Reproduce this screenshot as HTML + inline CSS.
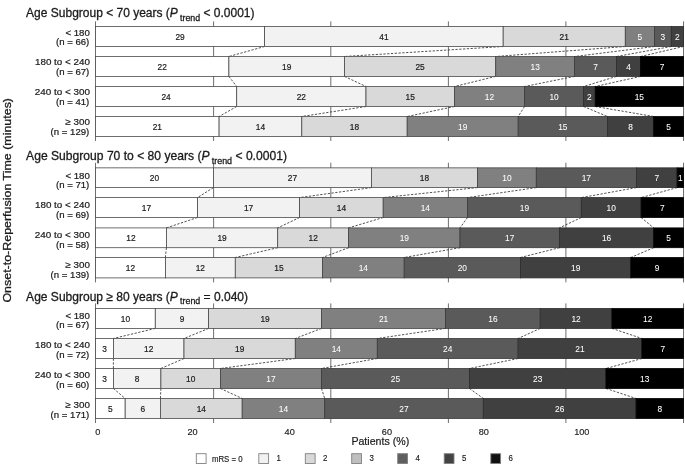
<!DOCTYPE html>
<html><head><meta charset="utf-8"><title>chart</title>
<style>html,body{margin:0;padding:0;background:#fff}svg{display:block;will-change:transform}</style></head>
<body>
<svg width="685" height="466" viewBox="0 0 685 466" font-family="'Liberation Sans', sans-serif">
<rect width="685" height="466" fill="#fff"/>
<line x1="95.50" y1="21.40" x2="95.50" y2="141.00" stroke="#4a4a4a" stroke-width="0.8"/>
<line x1="213.60" y1="21.40" x2="213.60" y2="141.00" stroke="#4a4a4a" stroke-width="0.8"/>
<line x1="330.80" y1="21.40" x2="330.80" y2="141.00" stroke="#4a4a4a" stroke-width="0.8"/>
<line x1="448.40" y1="21.40" x2="448.40" y2="141.00" stroke="#4a4a4a" stroke-width="0.8"/>
<line x1="565.90" y1="21.40" x2="565.90" y2="141.00" stroke="#4a4a4a" stroke-width="0.8"/>
<line x1="683.50" y1="21.40" x2="683.50" y2="141.00" stroke="#4a4a4a" stroke-width="0.8"/>
<line x1="264.60" y1="46.50" x2="228.90" y2="56.50" stroke="#333" stroke-width="0.85" stroke-dasharray="2.3 1.5"/>
<line x1="503.20" y1="46.50" x2="344.50" y2="56.50" stroke="#333" stroke-width="0.85" stroke-dasharray="2.3 1.5"/>
<line x1="625.30" y1="46.50" x2="495.70" y2="56.50" stroke="#333" stroke-width="0.85" stroke-dasharray="2.3 1.5"/>
<line x1="654.50" y1="46.50" x2="574.60" y2="56.50" stroke="#333" stroke-width="0.85" stroke-dasharray="2.3 1.5"/>
<line x1="671.30" y1="46.50" x2="616.50" y2="56.50" stroke="#333" stroke-width="0.85" stroke-dasharray="2.3 1.5"/>
<line x1="683.50" y1="46.50" x2="640.60" y2="56.50" stroke="#333" stroke-width="0.85" stroke-dasharray="2.3 1.5"/>
<line x1="228.90" y1="76.40" x2="236.70" y2="86.50" stroke="#333" stroke-width="0.85" stroke-dasharray="2.3 1.5"/>
<line x1="344.50" y1="76.40" x2="366.00" y2="86.50" stroke="#333" stroke-width="0.85" stroke-dasharray="2.3 1.5"/>
<line x1="495.70" y1="76.40" x2="454.50" y2="86.50" stroke="#333" stroke-width="0.85" stroke-dasharray="2.3 1.5"/>
<line x1="574.60" y1="76.40" x2="524.50" y2="86.50" stroke="#333" stroke-width="0.85" stroke-dasharray="2.3 1.5"/>
<line x1="616.50" y1="76.40" x2="583.60" y2="86.50" stroke="#333" stroke-width="0.85" stroke-dasharray="2.3 1.5"/>
<line x1="640.60" y1="76.40" x2="595.20" y2="86.50" stroke="#333" stroke-width="0.85" stroke-dasharray="2.3 1.5"/>
<line x1="236.70" y1="106.50" x2="219.10" y2="116.50" stroke="#333" stroke-width="0.85" stroke-dasharray="2.3 1.5"/>
<line x1="366.00" y1="106.50" x2="301.80" y2="116.50" stroke="#333" stroke-width="0.85" stroke-dasharray="2.3 1.5"/>
<line x1="454.50" y1="106.50" x2="407.20" y2="116.50" stroke="#333" stroke-width="0.85" stroke-dasharray="2.3 1.5"/>
<line x1="524.50" y1="106.50" x2="518.20" y2="116.50" stroke="#333" stroke-width="0.85" stroke-dasharray="2.3 1.5"/>
<line x1="583.60" y1="106.50" x2="607.50" y2="116.50" stroke="#333" stroke-width="0.85" stroke-dasharray="2.3 1.5"/>
<line x1="595.20" y1="106.50" x2="653.70" y2="116.50" stroke="#333" stroke-width="0.85" stroke-dasharray="2.3 1.5"/>
<rect x="95.50" y="26.50" width="169.10" height="20.00" fill="#ffffff" stroke="#4a4a4a" stroke-width="0.8"/>
<rect x="264.60" y="26.50" width="238.60" height="20.00" fill="#f2f2f2" stroke="#4a4a4a" stroke-width="0.8"/>
<rect x="503.20" y="26.50" width="122.10" height="20.00" fill="#d9d9d9" stroke="#4a4a4a" stroke-width="0.8"/>
<rect x="625.30" y="26.50" width="29.20" height="20.00" fill="#808080" stroke="#444" stroke-width="0.8"/>
<rect x="654.50" y="26.50" width="16.80" height="20.00" fill="#5a5a5a" stroke="#3a3a3a" stroke-width="0.8"/>
<rect x="671.30" y="26.50" width="12.20" height="20.00" fill="#404040" stroke="#2c2c2c" stroke-width="0.8"/>
<text x="180.05" y="40.10" font-size="9" text-anchor="middle" fill="#1a1a1a" stroke="#1a1a1a" stroke-width="0.2" textLength="9.30" lengthAdjust="spacingAndGlyphs">29</text>
<text x="383.90" y="40.10" font-size="9" text-anchor="middle" fill="#1a1a1a" stroke="#1a1a1a" stroke-width="0.2" textLength="9.30" lengthAdjust="spacingAndGlyphs">41</text>
<text x="564.25" y="40.10" font-size="9" text-anchor="middle" fill="#1a1a1a" stroke="#1a1a1a" stroke-width="0.2" textLength="9.30" lengthAdjust="spacingAndGlyphs">21</text>
<text x="639.90" y="40.10" font-size="9" text-anchor="middle" fill="#fff" stroke="#fff" stroke-width="0.05" textLength="4.65" lengthAdjust="spacingAndGlyphs">5</text>
<text x="662.90" y="40.10" font-size="9" text-anchor="middle" fill="#fff" stroke="#fff" stroke-width="0.05" textLength="4.65" lengthAdjust="spacingAndGlyphs">3</text>
<text x="677.40" y="40.10" font-size="9" text-anchor="middle" fill="#fff" stroke="#fff" stroke-width="0.05" textLength="4.65" lengthAdjust="spacingAndGlyphs">2</text>
<text x="65.40" y="35.50" font-size="9" fill="#1a1a1a" stroke="#1a1a1a" stroke-width="0.2" textLength="24.5" lengthAdjust="spacingAndGlyphs">&lt; 180</text>
<text x="56.00" y="45.30" font-size="9" fill="#1a1a1a" stroke="#1a1a1a" stroke-width="0.2" textLength="33.3" lengthAdjust="spacingAndGlyphs">(n = 66)</text>
<rect x="95.50" y="56.50" width="133.40" height="19.90" fill="#ffffff" stroke="#4a4a4a" stroke-width="0.8"/>
<rect x="228.90" y="56.50" width="115.60" height="19.90" fill="#f2f2f2" stroke="#4a4a4a" stroke-width="0.8"/>
<rect x="344.50" y="56.50" width="151.20" height="19.90" fill="#d9d9d9" stroke="#4a4a4a" stroke-width="0.8"/>
<rect x="495.70" y="56.50" width="78.90" height="19.90" fill="#808080" stroke="#444" stroke-width="0.8"/>
<rect x="574.60" y="56.50" width="41.90" height="19.90" fill="#5a5a5a" stroke="#3a3a3a" stroke-width="0.8"/>
<rect x="616.50" y="56.50" width="24.10" height="19.90" fill="#404040" stroke="#2c2c2c" stroke-width="0.8"/>
<rect x="640.60" y="56.50" width="42.90" height="19.90" fill="#000000" stroke="#000" stroke-width="0.8"/>
<text x="162.20" y="70.05" font-size="9" text-anchor="middle" fill="#1a1a1a" stroke="#1a1a1a" stroke-width="0.2" textLength="9.30" lengthAdjust="spacingAndGlyphs">22</text>
<text x="286.70" y="70.05" font-size="9" text-anchor="middle" fill="#1a1a1a" stroke="#1a1a1a" stroke-width="0.2" textLength="9.30" lengthAdjust="spacingAndGlyphs">19</text>
<text x="420.10" y="70.05" font-size="9" text-anchor="middle" fill="#1a1a1a" stroke="#1a1a1a" stroke-width="0.2" textLength="9.30" lengthAdjust="spacingAndGlyphs">25</text>
<text x="535.15" y="70.05" font-size="9" text-anchor="middle" fill="#fff" stroke="#fff" stroke-width="0.05" textLength="9.30" lengthAdjust="spacingAndGlyphs">13</text>
<text x="595.55" y="70.05" font-size="9" text-anchor="middle" fill="#fff" stroke="#fff" stroke-width="0.05" textLength="4.65" lengthAdjust="spacingAndGlyphs">7</text>
<text x="628.55" y="70.05" font-size="9" text-anchor="middle" fill="#fff" stroke="#fff" stroke-width="0.05" textLength="4.65" lengthAdjust="spacingAndGlyphs">4</text>
<text x="662.05" y="70.05" font-size="9" text-anchor="middle" fill="#fff" stroke="#fff" stroke-width="0.05" textLength="4.65" lengthAdjust="spacingAndGlyphs">7</text>
<text x="35.00" y="65.40" font-size="9" fill="#1a1a1a" stroke="#1a1a1a" stroke-width="0.2" textLength="54.9" lengthAdjust="spacingAndGlyphs">180 to &lt; 240</text>
<text x="56.00" y="75.20" font-size="9" fill="#1a1a1a" stroke="#1a1a1a" stroke-width="0.2" textLength="33.3" lengthAdjust="spacingAndGlyphs">(n = 67)</text>
<rect x="95.50" y="86.50" width="141.20" height="20.00" fill="#ffffff" stroke="#4a4a4a" stroke-width="0.8"/>
<rect x="236.70" y="86.50" width="129.30" height="20.00" fill="#f2f2f2" stroke="#4a4a4a" stroke-width="0.8"/>
<rect x="366.00" y="86.50" width="88.50" height="20.00" fill="#d9d9d9" stroke="#4a4a4a" stroke-width="0.8"/>
<rect x="454.50" y="86.50" width="70.00" height="20.00" fill="#808080" stroke="#444" stroke-width="0.8"/>
<rect x="524.50" y="86.50" width="59.10" height="20.00" fill="#5a5a5a" stroke="#3a3a3a" stroke-width="0.8"/>
<rect x="583.60" y="86.50" width="11.60" height="20.00" fill="#404040" stroke="#2c2c2c" stroke-width="0.8"/>
<rect x="595.20" y="86.50" width="88.30" height="20.00" fill="#000000" stroke="#000" stroke-width="0.8"/>
<text x="166.10" y="100.10" font-size="9" text-anchor="middle" fill="#1a1a1a" stroke="#1a1a1a" stroke-width="0.2" textLength="9.30" lengthAdjust="spacingAndGlyphs">24</text>
<text x="301.35" y="100.10" font-size="9" text-anchor="middle" fill="#1a1a1a" stroke="#1a1a1a" stroke-width="0.2" textLength="9.30" lengthAdjust="spacingAndGlyphs">22</text>
<text x="410.25" y="100.10" font-size="9" text-anchor="middle" fill="#1a1a1a" stroke="#1a1a1a" stroke-width="0.2" textLength="9.30" lengthAdjust="spacingAndGlyphs">15</text>
<text x="489.50" y="100.10" font-size="9" text-anchor="middle" fill="#fff" stroke="#fff" stroke-width="0.05" textLength="9.30" lengthAdjust="spacingAndGlyphs">12</text>
<text x="554.05" y="100.10" font-size="9" text-anchor="middle" fill="#fff" stroke="#fff" stroke-width="0.05" textLength="9.30" lengthAdjust="spacingAndGlyphs">10</text>
<text x="589.40" y="100.10" font-size="9" text-anchor="middle" fill="#fff" stroke="#fff" stroke-width="0.05" textLength="4.65" lengthAdjust="spacingAndGlyphs">2</text>
<text x="639.35" y="100.10" font-size="9" text-anchor="middle" fill="#fff" stroke="#fff" stroke-width="0.05" textLength="9.30" lengthAdjust="spacingAndGlyphs">15</text>
<text x="34.80" y="95.30" font-size="9" fill="#1a1a1a" stroke="#1a1a1a" stroke-width="0.2" textLength="55.1" lengthAdjust="spacingAndGlyphs">240 to &lt; 300</text>
<text x="56.00" y="105.10" font-size="9" fill="#1a1a1a" stroke="#1a1a1a" stroke-width="0.2" textLength="33.3" lengthAdjust="spacingAndGlyphs">(n = 41)</text>
<rect x="95.50" y="116.50" width="123.60" height="20.00" fill="#ffffff" stroke="#4a4a4a" stroke-width="0.8"/>
<rect x="219.10" y="116.50" width="82.70" height="20.00" fill="#f2f2f2" stroke="#4a4a4a" stroke-width="0.8"/>
<rect x="301.80" y="116.50" width="105.40" height="20.00" fill="#d9d9d9" stroke="#4a4a4a" stroke-width="0.8"/>
<rect x="407.20" y="116.50" width="111.00" height="20.00" fill="#808080" stroke="#444" stroke-width="0.8"/>
<rect x="518.20" y="116.50" width="89.30" height="20.00" fill="#5a5a5a" stroke="#3a3a3a" stroke-width="0.8"/>
<rect x="607.50" y="116.50" width="46.20" height="20.00" fill="#404040" stroke="#2c2c2c" stroke-width="0.8"/>
<rect x="653.70" y="116.50" width="29.80" height="20.00" fill="#000000" stroke="#000" stroke-width="0.8"/>
<text x="157.30" y="130.10" font-size="9" text-anchor="middle" fill="#1a1a1a" stroke="#1a1a1a" stroke-width="0.2" textLength="9.30" lengthAdjust="spacingAndGlyphs">21</text>
<text x="260.45" y="130.10" font-size="9" text-anchor="middle" fill="#1a1a1a" stroke="#1a1a1a" stroke-width="0.2" textLength="9.30" lengthAdjust="spacingAndGlyphs">14</text>
<text x="354.50" y="130.10" font-size="9" text-anchor="middle" fill="#1a1a1a" stroke="#1a1a1a" stroke-width="0.2" textLength="9.30" lengthAdjust="spacingAndGlyphs">18</text>
<text x="462.70" y="130.10" font-size="9" text-anchor="middle" fill="#fff" stroke="#fff" stroke-width="0.05" textLength="9.30" lengthAdjust="spacingAndGlyphs">19</text>
<text x="562.85" y="130.10" font-size="9" text-anchor="middle" fill="#fff" stroke="#fff" stroke-width="0.05" textLength="9.30" lengthAdjust="spacingAndGlyphs">15</text>
<text x="630.60" y="130.10" font-size="9" text-anchor="middle" fill="#fff" stroke="#fff" stroke-width="0.05" textLength="4.65" lengthAdjust="spacingAndGlyphs">8</text>
<text x="668.60" y="130.10" font-size="9" text-anchor="middle" fill="#fff" stroke="#fff" stroke-width="0.05" textLength="4.65" lengthAdjust="spacingAndGlyphs">5</text>
<text x="65.40" y="125.20" font-size="9" fill="#1a1a1a" stroke="#1a1a1a" stroke-width="0.2" textLength="24.5" lengthAdjust="spacingAndGlyphs">≥ 300</text>
<text x="50.60" y="135.00" font-size="9" fill="#1a1a1a" stroke="#1a1a1a" stroke-width="0.2" textLength="38.7" lengthAdjust="spacingAndGlyphs">(n = 129)</text>
<text transform="translate(26.1,17.20) scale(0.96,1)" font-size="12.5" fill="#1a1a1a" stroke="#1a1a1a" stroke-width="0.3">Age Subgroup &lt; 70 years (<tspan font-style="italic">P</tspan><tspan font-size="9.2" dy="3.4" dx="2.3">trend</tspan><tspan dy="-3.4"> &lt; 0.0001)</tspan></text>
<line x1="95.50" y1="162.75" x2="95.50" y2="282.40" stroke="#4a4a4a" stroke-width="0.8"/>
<line x1="213.60" y1="162.75" x2="213.60" y2="282.40" stroke="#4a4a4a" stroke-width="0.8"/>
<line x1="330.80" y1="162.75" x2="330.80" y2="282.40" stroke="#4a4a4a" stroke-width="0.8"/>
<line x1="448.40" y1="162.75" x2="448.40" y2="282.40" stroke="#4a4a4a" stroke-width="0.8"/>
<line x1="565.90" y1="162.75" x2="565.90" y2="282.40" stroke="#4a4a4a" stroke-width="0.8"/>
<line x1="683.50" y1="162.75" x2="683.50" y2="282.40" stroke="#4a4a4a" stroke-width="0.8"/>
<line x1="213.40" y1="187.60" x2="197.50" y2="197.60" stroke="#333" stroke-width="0.85" stroke-dasharray="2.3 1.5"/>
<line x1="371.40" y1="187.60" x2="299.60" y2="197.60" stroke="#333" stroke-width="0.85" stroke-dasharray="2.3 1.5"/>
<line x1="477.50" y1="187.60" x2="383.20" y2="197.60" stroke="#333" stroke-width="0.85" stroke-dasharray="2.3 1.5"/>
<line x1="536.30" y1="187.60" x2="467.50" y2="197.60" stroke="#333" stroke-width="0.85" stroke-dasharray="2.3 1.5"/>
<line x1="636.40" y1="187.60" x2="581.30" y2="197.60" stroke="#333" stroke-width="0.85" stroke-dasharray="2.3 1.5"/>
<line x1="677.10" y1="187.60" x2="641.10" y2="197.60" stroke="#333" stroke-width="0.85" stroke-dasharray="2.3 1.5"/>
<line x1="197.50" y1="217.50" x2="166.40" y2="227.90" stroke="#333" stroke-width="0.85" stroke-dasharray="2.3 1.5"/>
<line x1="299.60" y1="217.50" x2="277.70" y2="227.90" stroke="#333" stroke-width="0.85" stroke-dasharray="2.3 1.5"/>
<line x1="383.20" y1="217.50" x2="348.60" y2="227.90" stroke="#333" stroke-width="0.85" stroke-dasharray="2.3 1.5"/>
<line x1="467.50" y1="217.50" x2="460.00" y2="227.90" stroke="#333" stroke-width="0.85" stroke-dasharray="2.3 1.5"/>
<line x1="581.30" y1="217.50" x2="559.50" y2="227.90" stroke="#333" stroke-width="0.85" stroke-dasharray="2.3 1.5"/>
<line x1="641.10" y1="217.50" x2="653.70" y2="227.90" stroke="#333" stroke-width="0.85" stroke-dasharray="2.3 1.5"/>
<line x1="166.40" y1="247.70" x2="165.40" y2="257.50" stroke="#333" stroke-width="0.85" stroke-dasharray="2.3 1.5"/>
<line x1="277.70" y1="247.70" x2="235.30" y2="257.50" stroke="#333" stroke-width="0.85" stroke-dasharray="2.3 1.5"/>
<line x1="348.60" y1="247.70" x2="322.50" y2="257.50" stroke="#333" stroke-width="0.85" stroke-dasharray="2.3 1.5"/>
<line x1="460.00" y1="247.70" x2="404.20" y2="257.50" stroke="#333" stroke-width="0.85" stroke-dasharray="2.3 1.5"/>
<line x1="559.50" y1="247.70" x2="520.50" y2="257.50" stroke="#333" stroke-width="0.85" stroke-dasharray="2.3 1.5"/>
<line x1="653.70" y1="247.70" x2="630.80" y2="257.50" stroke="#333" stroke-width="0.85" stroke-dasharray="2.3 1.5"/>
<rect x="95.50" y="167.85" width="117.90" height="19.75" fill="#ffffff" stroke="#4a4a4a" stroke-width="0.8"/>
<rect x="213.40" y="167.85" width="158.00" height="19.75" fill="#f2f2f2" stroke="#4a4a4a" stroke-width="0.8"/>
<rect x="371.40" y="167.85" width="106.10" height="19.75" fill="#d9d9d9" stroke="#4a4a4a" stroke-width="0.8"/>
<rect x="477.50" y="167.85" width="58.80" height="19.75" fill="#808080" stroke="#444" stroke-width="0.8"/>
<rect x="536.30" y="167.85" width="100.10" height="19.75" fill="#5a5a5a" stroke="#3a3a3a" stroke-width="0.8"/>
<rect x="636.40" y="167.85" width="40.70" height="19.75" fill="#404040" stroke="#2c2c2c" stroke-width="0.8"/>
<rect x="677.10" y="167.85" width="6.40" height="19.75" fill="#000000" stroke="#000" stroke-width="0.8"/>
<text x="154.45" y="181.32" font-size="9" text-anchor="middle" fill="#1a1a1a" stroke="#1a1a1a" stroke-width="0.2" textLength="9.30" lengthAdjust="spacingAndGlyphs">20</text>
<text x="292.40" y="181.32" font-size="9" text-anchor="middle" fill="#1a1a1a" stroke="#1a1a1a" stroke-width="0.2" textLength="9.30" lengthAdjust="spacingAndGlyphs">27</text>
<text x="424.45" y="181.32" font-size="9" text-anchor="middle" fill="#1a1a1a" stroke="#1a1a1a" stroke-width="0.2" textLength="9.30" lengthAdjust="spacingAndGlyphs">18</text>
<text x="506.90" y="181.32" font-size="9" text-anchor="middle" fill="#fff" stroke="#fff" stroke-width="0.05" textLength="9.30" lengthAdjust="spacingAndGlyphs">10</text>
<text x="586.35" y="181.32" font-size="9" text-anchor="middle" fill="#fff" stroke="#fff" stroke-width="0.05" textLength="9.30" lengthAdjust="spacingAndGlyphs">17</text>
<text x="656.75" y="181.32" font-size="9" text-anchor="middle" fill="#fff" stroke="#fff" stroke-width="0.05" textLength="4.65" lengthAdjust="spacingAndGlyphs">7</text>
<text x="680.30" y="181.32" font-size="9" text-anchor="middle" fill="#fff" stroke="#fff" stroke-width="0.05" textLength="4.65" lengthAdjust="spacingAndGlyphs">1</text>
<text x="65.40" y="178.50" font-size="9" fill="#1a1a1a" stroke="#1a1a1a" stroke-width="0.2" textLength="24.5" lengthAdjust="spacingAndGlyphs">&lt; 180</text>
<text x="56.00" y="188.30" font-size="9" fill="#1a1a1a" stroke="#1a1a1a" stroke-width="0.2" textLength="33.3" lengthAdjust="spacingAndGlyphs">(n = 71)</text>
<rect x="95.50" y="197.60" width="102.00" height="19.90" fill="#ffffff" stroke="#4a4a4a" stroke-width="0.8"/>
<rect x="197.50" y="197.60" width="102.10" height="19.90" fill="#f2f2f2" stroke="#4a4a4a" stroke-width="0.8"/>
<rect x="299.60" y="197.60" width="83.60" height="19.90" fill="#d9d9d9" stroke="#4a4a4a" stroke-width="0.8"/>
<rect x="383.20" y="197.60" width="84.30" height="19.90" fill="#808080" stroke="#444" stroke-width="0.8"/>
<rect x="467.50" y="197.60" width="113.80" height="19.90" fill="#5a5a5a" stroke="#3a3a3a" stroke-width="0.8"/>
<rect x="581.30" y="197.60" width="59.80" height="19.90" fill="#404040" stroke="#2c2c2c" stroke-width="0.8"/>
<rect x="641.10" y="197.60" width="42.40" height="19.90" fill="#000000" stroke="#000" stroke-width="0.8"/>
<text x="146.50" y="211.15" font-size="9" text-anchor="middle" fill="#1a1a1a" stroke="#1a1a1a" stroke-width="0.2" textLength="9.30" lengthAdjust="spacingAndGlyphs">17</text>
<text x="248.55" y="211.15" font-size="9" text-anchor="middle" fill="#1a1a1a" stroke="#1a1a1a" stroke-width="0.2" textLength="9.30" lengthAdjust="spacingAndGlyphs">17</text>
<text x="341.40" y="211.15" font-size="9" text-anchor="middle" fill="#1a1a1a" stroke="#1a1a1a" stroke-width="0.2" textLength="9.30" lengthAdjust="spacingAndGlyphs">14</text>
<text x="425.35" y="211.15" font-size="9" text-anchor="middle" fill="#fff" stroke="#fff" stroke-width="0.05" textLength="9.30" lengthAdjust="spacingAndGlyphs">14</text>
<text x="524.40" y="211.15" font-size="9" text-anchor="middle" fill="#fff" stroke="#fff" stroke-width="0.05" textLength="9.30" lengthAdjust="spacingAndGlyphs">19</text>
<text x="611.20" y="211.15" font-size="9" text-anchor="middle" fill="#fff" stroke="#fff" stroke-width="0.05" textLength="9.30" lengthAdjust="spacingAndGlyphs">10</text>
<text x="662.30" y="211.15" font-size="9" text-anchor="middle" fill="#fff" stroke="#fff" stroke-width="0.05" textLength="4.65" lengthAdjust="spacingAndGlyphs">7</text>
<text x="35.00" y="208.40" font-size="9" fill="#1a1a1a" stroke="#1a1a1a" stroke-width="0.2" textLength="54.9" lengthAdjust="spacingAndGlyphs">180 to &lt; 240</text>
<text x="56.00" y="218.20" font-size="9" fill="#1a1a1a" stroke="#1a1a1a" stroke-width="0.2" textLength="33.3" lengthAdjust="spacingAndGlyphs">(n = 69)</text>
<rect x="95.50" y="227.90" width="70.90" height="19.80" fill="#ffffff" stroke="#4a4a4a" stroke-width="0.8"/>
<rect x="166.40" y="227.90" width="111.30" height="19.80" fill="#f2f2f2" stroke="#4a4a4a" stroke-width="0.8"/>
<rect x="277.70" y="227.90" width="70.90" height="19.80" fill="#d9d9d9" stroke="#4a4a4a" stroke-width="0.8"/>
<rect x="348.60" y="227.90" width="111.40" height="19.80" fill="#808080" stroke="#444" stroke-width="0.8"/>
<rect x="460.00" y="227.90" width="99.50" height="19.80" fill="#5a5a5a" stroke="#3a3a3a" stroke-width="0.8"/>
<rect x="559.50" y="227.90" width="94.20" height="19.80" fill="#404040" stroke="#2c2c2c" stroke-width="0.8"/>
<rect x="653.70" y="227.90" width="29.80" height="19.80" fill="#000000" stroke="#000" stroke-width="0.8"/>
<text x="130.95" y="241.40" font-size="9" text-anchor="middle" fill="#1a1a1a" stroke="#1a1a1a" stroke-width="0.2" textLength="9.30" lengthAdjust="spacingAndGlyphs">12</text>
<text x="222.05" y="241.40" font-size="9" text-anchor="middle" fill="#1a1a1a" stroke="#1a1a1a" stroke-width="0.2" textLength="9.30" lengthAdjust="spacingAndGlyphs">19</text>
<text x="313.15" y="241.40" font-size="9" text-anchor="middle" fill="#1a1a1a" stroke="#1a1a1a" stroke-width="0.2" textLength="9.30" lengthAdjust="spacingAndGlyphs">12</text>
<text x="404.30" y="241.40" font-size="9" text-anchor="middle" fill="#fff" stroke="#fff" stroke-width="0.05" textLength="9.30" lengthAdjust="spacingAndGlyphs">19</text>
<text x="509.75" y="241.40" font-size="9" text-anchor="middle" fill="#fff" stroke="#fff" stroke-width="0.05" textLength="9.30" lengthAdjust="spacingAndGlyphs">17</text>
<text x="606.60" y="241.40" font-size="9" text-anchor="middle" fill="#fff" stroke="#fff" stroke-width="0.05" textLength="9.30" lengthAdjust="spacingAndGlyphs">16</text>
<text x="668.60" y="241.40" font-size="9" text-anchor="middle" fill="#fff" stroke="#fff" stroke-width="0.05" textLength="4.65" lengthAdjust="spacingAndGlyphs">5</text>
<text x="34.80" y="238.30" font-size="9" fill="#1a1a1a" stroke="#1a1a1a" stroke-width="0.2" textLength="55.1" lengthAdjust="spacingAndGlyphs">240 to &lt; 300</text>
<text x="56.00" y="248.10" font-size="9" fill="#1a1a1a" stroke="#1a1a1a" stroke-width="0.2" textLength="33.3" lengthAdjust="spacingAndGlyphs">(n = 58)</text>
<rect x="95.50" y="257.50" width="69.90" height="20.40" fill="#ffffff" stroke="#4a4a4a" stroke-width="0.8"/>
<rect x="165.40" y="257.50" width="69.90" height="20.40" fill="#f2f2f2" stroke="#4a4a4a" stroke-width="0.8"/>
<rect x="235.30" y="257.50" width="87.20" height="20.40" fill="#d9d9d9" stroke="#4a4a4a" stroke-width="0.8"/>
<rect x="322.50" y="257.50" width="81.70" height="20.40" fill="#808080" stroke="#444" stroke-width="0.8"/>
<rect x="404.20" y="257.50" width="116.30" height="20.40" fill="#5a5a5a" stroke="#3a3a3a" stroke-width="0.8"/>
<rect x="520.50" y="257.50" width="110.30" height="20.40" fill="#404040" stroke="#2c2c2c" stroke-width="0.8"/>
<rect x="630.80" y="257.50" width="52.70" height="20.40" fill="#000000" stroke="#000" stroke-width="0.8"/>
<text x="130.45" y="271.30" font-size="9" text-anchor="middle" fill="#1a1a1a" stroke="#1a1a1a" stroke-width="0.2" textLength="9.30" lengthAdjust="spacingAndGlyphs">12</text>
<text x="200.35" y="271.30" font-size="9" text-anchor="middle" fill="#1a1a1a" stroke="#1a1a1a" stroke-width="0.2" textLength="9.30" lengthAdjust="spacingAndGlyphs">12</text>
<text x="278.90" y="271.30" font-size="9" text-anchor="middle" fill="#1a1a1a" stroke="#1a1a1a" stroke-width="0.2" textLength="9.30" lengthAdjust="spacingAndGlyphs">15</text>
<text x="363.35" y="271.30" font-size="9" text-anchor="middle" fill="#fff" stroke="#fff" stroke-width="0.05" textLength="9.30" lengthAdjust="spacingAndGlyphs">14</text>
<text x="462.35" y="271.30" font-size="9" text-anchor="middle" fill="#fff" stroke="#fff" stroke-width="0.05" textLength="9.30" lengthAdjust="spacingAndGlyphs">20</text>
<text x="575.65" y="271.30" font-size="9" text-anchor="middle" fill="#fff" stroke="#fff" stroke-width="0.05" textLength="9.30" lengthAdjust="spacingAndGlyphs">19</text>
<text x="657.15" y="271.30" font-size="9" text-anchor="middle" fill="#fff" stroke="#fff" stroke-width="0.05" textLength="4.65" lengthAdjust="spacingAndGlyphs">9</text>
<text x="65.40" y="268.20" font-size="9" fill="#1a1a1a" stroke="#1a1a1a" stroke-width="0.2" textLength="24.5" lengthAdjust="spacingAndGlyphs">≥ 300</text>
<text x="50.60" y="278.00" font-size="9" fill="#1a1a1a" stroke="#1a1a1a" stroke-width="0.2" textLength="38.7" lengthAdjust="spacingAndGlyphs">(n = 139)</text>
<text transform="translate(26.1,160.40) scale(0.97,1)" font-size="12.5" fill="#1a1a1a" stroke="#1a1a1a" stroke-width="0.3">Age Subgroup 70 to &lt; 80 years (<tspan font-style="italic">P</tspan><tspan font-size="9.2" dy="3.4" dx="2.3">trend</tspan><tspan dy="-3.4"> &lt; 0.0001)</tspan></text>
<line x1="95.50" y1="303.40" x2="95.50" y2="423.00" stroke="#4a4a4a" stroke-width="0.8"/>
<line x1="213.60" y1="303.40" x2="213.60" y2="423.00" stroke="#4a4a4a" stroke-width="0.8"/>
<line x1="330.80" y1="303.40" x2="330.80" y2="423.00" stroke="#4a4a4a" stroke-width="0.8"/>
<line x1="448.40" y1="303.40" x2="448.40" y2="423.00" stroke="#4a4a4a" stroke-width="0.8"/>
<line x1="565.90" y1="303.40" x2="565.90" y2="423.00" stroke="#4a4a4a" stroke-width="0.8"/>
<line x1="683.50" y1="303.40" x2="683.50" y2="423.00" stroke="#4a4a4a" stroke-width="0.8"/>
<line x1="155.30" y1="328.40" x2="113.40" y2="338.50" stroke="#333" stroke-width="0.85" stroke-dasharray="2.3 1.5"/>
<line x1="208.60" y1="328.40" x2="184.00" y2="338.50" stroke="#333" stroke-width="0.85" stroke-dasharray="2.3 1.5"/>
<line x1="321.50" y1="328.40" x2="295.30" y2="338.50" stroke="#333" stroke-width="0.85" stroke-dasharray="2.3 1.5"/>
<line x1="445.60" y1="328.40" x2="377.30" y2="338.50" stroke="#333" stroke-width="0.85" stroke-dasharray="2.3 1.5"/>
<line x1="540.20" y1="328.40" x2="518.10" y2="338.50" stroke="#333" stroke-width="0.85" stroke-dasharray="2.3 1.5"/>
<line x1="612.00" y1="328.40" x2="641.90" y2="338.50" stroke="#333" stroke-width="0.85" stroke-dasharray="2.3 1.5"/>
<line x1="113.40" y1="358.50" x2="113.40" y2="368.50" stroke="#333" stroke-width="0.85" stroke-dasharray="2.3 1.5"/>
<line x1="184.00" y1="358.50" x2="160.90" y2="368.50" stroke="#333" stroke-width="0.85" stroke-dasharray="2.3 1.5"/>
<line x1="295.30" y1="358.50" x2="220.40" y2="368.50" stroke="#333" stroke-width="0.85" stroke-dasharray="2.3 1.5"/>
<line x1="377.30" y1="358.50" x2="321.50" y2="368.50" stroke="#333" stroke-width="0.85" stroke-dasharray="2.3 1.5"/>
<line x1="518.10" y1="358.50" x2="469.50" y2="368.50" stroke="#333" stroke-width="0.85" stroke-dasharray="2.3 1.5"/>
<line x1="641.90" y1="358.50" x2="606.00" y2="368.50" stroke="#333" stroke-width="0.85" stroke-dasharray="2.3 1.5"/>
<line x1="113.40" y1="388.45" x2="125.20" y2="398.50" stroke="#333" stroke-width="0.85" stroke-dasharray="2.3 1.5"/>
<line x1="160.90" y1="388.45" x2="160.40" y2="398.50" stroke="#333" stroke-width="0.85" stroke-dasharray="2.3 1.5"/>
<line x1="220.40" y1="388.45" x2="242.20" y2="398.50" stroke="#333" stroke-width="0.85" stroke-dasharray="2.3 1.5"/>
<line x1="321.50" y1="388.45" x2="324.70" y2="398.50" stroke="#333" stroke-width="0.85" stroke-dasharray="2.3 1.5"/>
<line x1="469.50" y1="388.45" x2="483.30" y2="398.50" stroke="#333" stroke-width="0.85" stroke-dasharray="2.3 1.5"/>
<line x1="606.00" y1="388.45" x2="636.10" y2="398.50" stroke="#333" stroke-width="0.85" stroke-dasharray="2.3 1.5"/>
<rect x="95.50" y="308.50" width="59.80" height="19.90" fill="#ffffff" stroke="#4a4a4a" stroke-width="0.8"/>
<rect x="155.30" y="308.50" width="53.30" height="19.90" fill="#f2f2f2" stroke="#4a4a4a" stroke-width="0.8"/>
<rect x="208.60" y="308.50" width="112.90" height="19.90" fill="#d9d9d9" stroke="#4a4a4a" stroke-width="0.8"/>
<rect x="321.50" y="308.50" width="124.10" height="19.90" fill="#808080" stroke="#444" stroke-width="0.8"/>
<rect x="445.60" y="308.50" width="94.60" height="19.90" fill="#5a5a5a" stroke="#3a3a3a" stroke-width="0.8"/>
<rect x="540.20" y="308.50" width="71.80" height="19.90" fill="#404040" stroke="#2c2c2c" stroke-width="0.8"/>
<rect x="612.00" y="308.50" width="71.50" height="19.90" fill="#000000" stroke="#000" stroke-width="0.8"/>
<text x="125.40" y="322.05" font-size="9" text-anchor="middle" fill="#1a1a1a" stroke="#1a1a1a" stroke-width="0.2" textLength="9.30" lengthAdjust="spacingAndGlyphs">10</text>
<text x="181.95" y="322.05" font-size="9" text-anchor="middle" fill="#1a1a1a" stroke="#1a1a1a" stroke-width="0.2" textLength="4.65" lengthAdjust="spacingAndGlyphs">9</text>
<text x="265.05" y="322.05" font-size="9" text-anchor="middle" fill="#1a1a1a" stroke="#1a1a1a" stroke-width="0.2" textLength="9.30" lengthAdjust="spacingAndGlyphs">19</text>
<text x="383.55" y="322.05" font-size="9" text-anchor="middle" fill="#fff" stroke="#fff" stroke-width="0.05" textLength="9.30" lengthAdjust="spacingAndGlyphs">21</text>
<text x="492.90" y="322.05" font-size="9" text-anchor="middle" fill="#fff" stroke="#fff" stroke-width="0.05" textLength="9.30" lengthAdjust="spacingAndGlyphs">16</text>
<text x="576.10" y="322.05" font-size="9" text-anchor="middle" fill="#fff" stroke="#fff" stroke-width="0.05" textLength="9.30" lengthAdjust="spacingAndGlyphs">12</text>
<text x="647.75" y="322.05" font-size="9" text-anchor="middle" fill="#fff" stroke="#fff" stroke-width="0.05" textLength="9.30" lengthAdjust="spacingAndGlyphs">12</text>
<text x="65.40" y="318.50" font-size="9" fill="#1a1a1a" stroke="#1a1a1a" stroke-width="0.2" textLength="24.5" lengthAdjust="spacingAndGlyphs">&lt; 180</text>
<text x="56.00" y="328.30" font-size="9" fill="#1a1a1a" stroke="#1a1a1a" stroke-width="0.2" textLength="33.3" lengthAdjust="spacingAndGlyphs">(n = 67)</text>
<rect x="95.50" y="338.50" width="17.90" height="20.00" fill="#ffffff" stroke="#4a4a4a" stroke-width="0.8"/>
<rect x="113.40" y="338.50" width="70.60" height="20.00" fill="#f2f2f2" stroke="#4a4a4a" stroke-width="0.8"/>
<rect x="184.00" y="338.50" width="111.30" height="20.00" fill="#d9d9d9" stroke="#4a4a4a" stroke-width="0.8"/>
<rect x="295.30" y="338.50" width="82.00" height="20.00" fill="#808080" stroke="#444" stroke-width="0.8"/>
<rect x="377.30" y="338.50" width="140.80" height="20.00" fill="#5a5a5a" stroke="#3a3a3a" stroke-width="0.8"/>
<rect x="518.10" y="338.50" width="123.80" height="20.00" fill="#404040" stroke="#2c2c2c" stroke-width="0.8"/>
<rect x="641.90" y="338.50" width="41.60" height="20.00" fill="#000000" stroke="#000" stroke-width="0.8"/>
<text x="104.45" y="352.10" font-size="9" text-anchor="middle" fill="#1a1a1a" stroke="#1a1a1a" stroke-width="0.2" textLength="4.65" lengthAdjust="spacingAndGlyphs">3</text>
<text x="148.70" y="352.10" font-size="9" text-anchor="middle" fill="#1a1a1a" stroke="#1a1a1a" stroke-width="0.2" textLength="9.30" lengthAdjust="spacingAndGlyphs">12</text>
<text x="239.65" y="352.10" font-size="9" text-anchor="middle" fill="#1a1a1a" stroke="#1a1a1a" stroke-width="0.2" textLength="9.30" lengthAdjust="spacingAndGlyphs">19</text>
<text x="336.30" y="352.10" font-size="9" text-anchor="middle" fill="#fff" stroke="#fff" stroke-width="0.05" textLength="9.30" lengthAdjust="spacingAndGlyphs">14</text>
<text x="447.70" y="352.10" font-size="9" text-anchor="middle" fill="#fff" stroke="#fff" stroke-width="0.05" textLength="9.30" lengthAdjust="spacingAndGlyphs">24</text>
<text x="580.00" y="352.10" font-size="9" text-anchor="middle" fill="#fff" stroke="#fff" stroke-width="0.05" textLength="9.30" lengthAdjust="spacingAndGlyphs">21</text>
<text x="662.70" y="352.10" font-size="9" text-anchor="middle" fill="#fff" stroke="#fff" stroke-width="0.05" textLength="4.65" lengthAdjust="spacingAndGlyphs">7</text>
<text x="35.00" y="348.40" font-size="9" fill="#1a1a1a" stroke="#1a1a1a" stroke-width="0.2" textLength="54.9" lengthAdjust="spacingAndGlyphs">180 to &lt; 240</text>
<text x="56.00" y="358.20" font-size="9" fill="#1a1a1a" stroke="#1a1a1a" stroke-width="0.2" textLength="33.3" lengthAdjust="spacingAndGlyphs">(n = 72)</text>
<rect x="95.50" y="368.50" width="17.90" height="19.95" fill="#ffffff" stroke="#4a4a4a" stroke-width="0.8"/>
<rect x="113.40" y="368.50" width="47.50" height="19.95" fill="#f2f2f2" stroke="#4a4a4a" stroke-width="0.8"/>
<rect x="160.90" y="368.50" width="59.50" height="19.95" fill="#d9d9d9" stroke="#4a4a4a" stroke-width="0.8"/>
<rect x="220.40" y="368.50" width="101.10" height="19.95" fill="#808080" stroke="#444" stroke-width="0.8"/>
<rect x="321.50" y="368.50" width="148.00" height="19.95" fill="#5a5a5a" stroke="#3a3a3a" stroke-width="0.8"/>
<rect x="469.50" y="368.50" width="136.50" height="19.95" fill="#404040" stroke="#2c2c2c" stroke-width="0.8"/>
<rect x="606.00" y="368.50" width="77.50" height="19.95" fill="#000000" stroke="#000" stroke-width="0.8"/>
<text x="104.45" y="382.08" font-size="9" text-anchor="middle" fill="#1a1a1a" stroke="#1a1a1a" stroke-width="0.2" textLength="4.65" lengthAdjust="spacingAndGlyphs">3</text>
<text x="137.15" y="382.08" font-size="9" text-anchor="middle" fill="#1a1a1a" stroke="#1a1a1a" stroke-width="0.2" textLength="4.65" lengthAdjust="spacingAndGlyphs">8</text>
<text x="190.65" y="382.08" font-size="9" text-anchor="middle" fill="#1a1a1a" stroke="#1a1a1a" stroke-width="0.2" textLength="9.30" lengthAdjust="spacingAndGlyphs">10</text>
<text x="270.95" y="382.08" font-size="9" text-anchor="middle" fill="#fff" stroke="#fff" stroke-width="0.05" textLength="9.30" lengthAdjust="spacingAndGlyphs">17</text>
<text x="395.50" y="382.08" font-size="9" text-anchor="middle" fill="#fff" stroke="#fff" stroke-width="0.05" textLength="9.30" lengthAdjust="spacingAndGlyphs">25</text>
<text x="537.75" y="382.08" font-size="9" text-anchor="middle" fill="#fff" stroke="#fff" stroke-width="0.05" textLength="9.30" lengthAdjust="spacingAndGlyphs">23</text>
<text x="644.75" y="382.08" font-size="9" text-anchor="middle" fill="#fff" stroke="#fff" stroke-width="0.05" textLength="9.30" lengthAdjust="spacingAndGlyphs">13</text>
<text x="34.80" y="378.30" font-size="9" fill="#1a1a1a" stroke="#1a1a1a" stroke-width="0.2" textLength="55.1" lengthAdjust="spacingAndGlyphs">240 to &lt; 300</text>
<text x="56.00" y="388.10" font-size="9" fill="#1a1a1a" stroke="#1a1a1a" stroke-width="0.2" textLength="33.3" lengthAdjust="spacingAndGlyphs">(n = 60)</text>
<rect x="95.50" y="398.50" width="29.70" height="20.00" fill="#ffffff" stroke="#4a4a4a" stroke-width="0.8"/>
<rect x="125.20" y="398.50" width="35.20" height="20.00" fill="#f2f2f2" stroke="#4a4a4a" stroke-width="0.8"/>
<rect x="160.40" y="398.50" width="81.80" height="20.00" fill="#d9d9d9" stroke="#4a4a4a" stroke-width="0.8"/>
<rect x="242.20" y="398.50" width="82.50" height="20.00" fill="#808080" stroke="#444" stroke-width="0.8"/>
<rect x="324.70" y="398.50" width="158.60" height="20.00" fill="#5a5a5a" stroke="#3a3a3a" stroke-width="0.8"/>
<rect x="483.30" y="398.50" width="152.80" height="20.00" fill="#404040" stroke="#2c2c2c" stroke-width="0.8"/>
<rect x="636.10" y="398.50" width="47.40" height="20.00" fill="#000000" stroke="#000" stroke-width="0.8"/>
<text x="110.35" y="412.10" font-size="9" text-anchor="middle" fill="#1a1a1a" stroke="#1a1a1a" stroke-width="0.2" textLength="4.65" lengthAdjust="spacingAndGlyphs">5</text>
<text x="142.80" y="412.10" font-size="9" text-anchor="middle" fill="#1a1a1a" stroke="#1a1a1a" stroke-width="0.2" textLength="4.65" lengthAdjust="spacingAndGlyphs">6</text>
<text x="201.30" y="412.10" font-size="9" text-anchor="middle" fill="#1a1a1a" stroke="#1a1a1a" stroke-width="0.2" textLength="9.30" lengthAdjust="spacingAndGlyphs">14</text>
<text x="283.45" y="412.10" font-size="9" text-anchor="middle" fill="#fff" stroke="#fff" stroke-width="0.05" textLength="9.30" lengthAdjust="spacingAndGlyphs">14</text>
<text x="404.00" y="412.10" font-size="9" text-anchor="middle" fill="#fff" stroke="#fff" stroke-width="0.05" textLength="9.30" lengthAdjust="spacingAndGlyphs">27</text>
<text x="559.70" y="412.10" font-size="9" text-anchor="middle" fill="#fff" stroke="#fff" stroke-width="0.05" textLength="9.30" lengthAdjust="spacingAndGlyphs">26</text>
<text x="659.80" y="412.10" font-size="9" text-anchor="middle" fill="#fff" stroke="#fff" stroke-width="0.05" textLength="4.65" lengthAdjust="spacingAndGlyphs">8</text>
<text x="65.40" y="408.20" font-size="9" fill="#1a1a1a" stroke="#1a1a1a" stroke-width="0.2" textLength="24.5" lengthAdjust="spacingAndGlyphs">≥ 300</text>
<text x="50.60" y="418.00" font-size="9" fill="#1a1a1a" stroke="#1a1a1a" stroke-width="0.2" textLength="38.7" lengthAdjust="spacingAndGlyphs">(n = 171)</text>
<text transform="translate(26.1,300.60) scale(0.963,1)" font-size="12.5" fill="#1a1a1a" stroke="#1a1a1a" stroke-width="0.3">Age Subgroup ≥ 80 years (<tspan font-style="italic">P</tspan><tspan font-size="9.2" dy="3.4" dx="2.3">trend</tspan><tspan dy="-3.4"> = 0.040)</tspan></text>
<text class="ytitle" transform="translate(11.3,302.6) rotate(-90)" font-size="11.3" fill="#1a1a1a" stroke="#1a1a1a" stroke-width="0.3" textLength="204.6" lengthAdjust="spacingAndGlyphs">Onset-to-Reperfusion Time (minutes)</text>
<text x="97.7" y="435.2" font-size="9.2" text-anchor="middle" fill="#1a1a1a" stroke="#1a1a1a" stroke-width="0.15" textLength="5.1" lengthAdjust="spacingAndGlyphs">0</text>
<text x="192.6" y="435.2" font-size="9.2" text-anchor="middle" fill="#1a1a1a" stroke="#1a1a1a" stroke-width="0.15" textLength="10.2" lengthAdjust="spacingAndGlyphs">20</text>
<text x="289.7" y="435.2" font-size="9.2" text-anchor="middle" fill="#1a1a1a" stroke="#1a1a1a" stroke-width="0.15" textLength="10.2" lengthAdjust="spacingAndGlyphs">40</text>
<text x="386.9" y="435.2" font-size="9.2" text-anchor="middle" fill="#1a1a1a" stroke="#1a1a1a" stroke-width="0.15" textLength="10.2" lengthAdjust="spacingAndGlyphs">60</text>
<text x="483.8" y="435.2" font-size="9.2" text-anchor="middle" fill="#1a1a1a" stroke="#1a1a1a" stroke-width="0.15" textLength="10.2" lengthAdjust="spacingAndGlyphs">80</text>
<text x="581.8" y="435.2" font-size="9.2" text-anchor="middle" fill="#1a1a1a" stroke="#1a1a1a" stroke-width="0.15" textLength="15.3" lengthAdjust="spacingAndGlyphs">100</text>
<text class="xt" x="351.4" y="445.3" font-size="10.6" fill="#1a1a1a" stroke="#1a1a1a" stroke-width="0.2" textLength="57.8" lengthAdjust="spacingAndGlyphs">Patients (%)</text>
<rect x="196.3" y="453.7" width="9.8" height="9.8" fill="#ffffff" stroke="#808080" stroke-width="0.9"/>
<text x="211.9" y="461.5" font-size="8.2" fill="#1a1a1a" stroke="#1a1a1a" stroke-width="0.15" textLength="30.7" lengthAdjust="spacingAndGlyphs">mRS = 0</text>
<rect x="258.8" y="453.7" width="9.8" height="9.8" fill="#f2f2f2" stroke="#808080" stroke-width="0.9"/>
<text x="276.5" y="461.4" font-size="9" fill="#1a1a1a" stroke="#1a1a1a" stroke-width="0.15" textLength="4.4" lengthAdjust="spacingAndGlyphs">1</text>
<rect x="305.3" y="453.7" width="9.8" height="9.8" fill="#d9d9d9" stroke="#808080" stroke-width="0.9"/>
<text x="323.0" y="461.4" font-size="9" fill="#1a1a1a" stroke="#1a1a1a" stroke-width="0.15" textLength="4.4" lengthAdjust="spacingAndGlyphs">2</text>
<rect x="351.7" y="453.7" width="9.8" height="9.8" fill="#bfbfbf" stroke="#808080" stroke-width="0.9"/>
<text x="369.4" y="461.4" font-size="9" fill="#1a1a1a" stroke="#1a1a1a" stroke-width="0.15" textLength="4.4" lengthAdjust="spacingAndGlyphs">3</text>
<rect x="397.7" y="453.7" width="9.8" height="9.8" fill="#5f5f5f" stroke="#808080" stroke-width="0.9"/>
<text x="415.4" y="461.4" font-size="9" fill="#1a1a1a" stroke="#1a1a1a" stroke-width="0.15" textLength="4.4" lengthAdjust="spacingAndGlyphs">4</text>
<rect x="444.2" y="453.7" width="9.8" height="9.8" fill="#424242" stroke="#808080" stroke-width="0.9"/>
<text x="461.9" y="461.4" font-size="9" fill="#1a1a1a" stroke="#1a1a1a" stroke-width="0.15" textLength="4.4" lengthAdjust="spacingAndGlyphs">5</text>
<rect x="490.8" y="453.7" width="9.8" height="9.8" fill="#111111" stroke="#808080" stroke-width="0.9"/>
<text x="508.5" y="461.4" font-size="9" fill="#1a1a1a" stroke="#1a1a1a" stroke-width="0.15" textLength="4.4" lengthAdjust="spacingAndGlyphs">6</text>
</svg>
</body></html>
